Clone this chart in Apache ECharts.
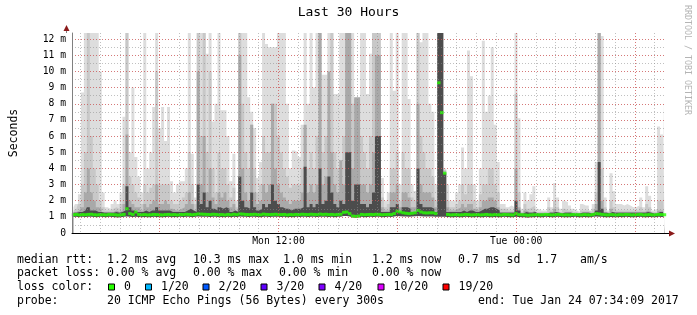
<!DOCTYPE html>
<html><head><meta charset="utf-8">
<script src="https://cdn.jsdelivr.net/npm/echarts@6/dist/echarts.min.js"></script>
<style>html,body{margin:0;padding:0;background:#fff}#c{width:697px;height:315px}</style>
</head><body><div id="c"></div>
<script>
// ---- time frame (hours since Mon 00:00) ----
const START_H = 1.5692;   // Mon 01:34:09
const END_H = 31.5692;    // Tue 07:34:09
const STEP_H = 0.15;      // one sample column
const Y_MAX = 12.38;      // ms

// ---- smoke envelopes (ms), outer -> inner ----
const smokeMax = [
1.6,1.8,2.4,8.7,13,13,13,13,13,10, 2.5,1.6,1.5,1.8,2.0,1.8,2.5,7.2,13,5,
9,4.7,3.5,2.5,13,4,5,7.8,13,6.5, 7.8,5.7,7.8,3.2,2.5,3,3.2,3.2,4,13,
4.9,2.2,13,13,13,11.1,13,6.9,8,13, 7.6,7.6,6,3.2,4.9,2,13,13,13,8.4,
7.5,6.5,3.4,4.4,13,11.7,11.5,11.5,11.5,13, 13,13,8,4,5.1,5,4.7,6.7,13,8,
13,9,13,13,9.8,9.8,13,13,8.6,8.6, 13,13,13,13,13,8.3,8.4,13,13,8.6,
11.1,12.1,11.5,11.5,3.4,2,2.5,13,8.8,13, 3,13,13,8.3,3,2.6,13,11.8,13,13,
8,7.5,3,13,13,4,3,2,2,2.5, 3,5.3,4,11.3,9.7,3,2,4,11.9,7.5,
8.5,11.5,6.7,4.4,1.8,1.8,1.6,1.7,1.6,13, 7.1,1.5,2.5,2,2.4,2.9,1.5,1.4,1.4,1.4,
2.2,1.6,3.1,2.2,1.5,2,1.9,1.7,1.5,1.4, 1.3,1.8,1.7,1.7,1.4,1.8,4.4,13,12.2,2.2,
1.4,3.7,2.6,1.8,1.8,1.7,1.8,1.7,1.6,1.6, 1.7,2.2,1.6,2.9,2.3,1.4,1.5,6.6,6.1,8.4
];
const smokeHigh = [
1.4,1.5,1.8,3,5,13,6,4,3,2, 1.6,1.4,1.4,1.5,1.6,1.5,1.8,3,13,3.5,
3,2.5,2.2,1.8,3,2.5,2.8,3,10,3, 3,3,3,2,1.8,1.8,2,2.2,2.5,5,
3,1.8,13,6,13,5,10,4,2.5,5, 4,4,3,2.2,2.8,1.6,13,8,5,4,
6.7,4,2.5,3,6,5,5,8,8,6, 5,4,3.5,2.8,3,3,3,4,6.5,4,
5,4,6,13,5,6,7,13,5,4, 4,6,13,13,8,6,6,6,5,4,
6,13,13,13,2.2,1.6,1.8,4,4,5, 2,5,4,4,2.2,2,13,6,5,4,
4,3.5,2,13,13,3.9,2,1.6,1.6,1.8, 2,3,2.4,3,3,2,1.6,2.4,3,3,
4,4,3,2.5,1.5,1.5,1.4,1.4,1.4,8.6, 2.5,1.3,1.8,1.5,1.6,1.7,1.3,1.3,1.3,1.3,
1.6,1.4,2,1.6,1.3,1.5,1.4,1.4,1.3,1.3, 1.2,1.4,1.4,1.4,1.3,1.5,2.5,13,4,1.6,
1.3,2,1.6,1.4,1.4,1.4,1.4,1.4,1.4,1.4, 1.4,1.6,1.4,1.8,1.6,1.3,1.3,2,2,2.5
];
const smokeMid = [
1.3,1.3,1.4,1.6,2.5,4,2.5,2,1.6,1.5, 1.3,1.3,1.3,1.3,1.4,1.3,1.4,1.8,6.1,2,
1.8,1.6,1.6,1.4,1.8,1.6,1.8,2,3,1.8, 1.8,2,1.8,1.5,1.4,1.4,1.5,1.6,1.8,2.5,
1.8,1.4,10,3,6,2.5,4,2.2,1.8,2.5, 2.2,2.5,2,1.6,1.8,1.4,11,4,2.5,2,
6.7,2.5,1.8,2,3,2.5,3,8,4,3, 2.5,2.2,2,1.8,2,2,2,2.5,6.7,2.5,
3,2.5,3,13,3,3.5,10,5,3,2.5, 4.5,3,13,13,4,8.4,8.4,3,3,2.5,
3,5,11,11,1.6,1.4,1.4,2.5,2.5,3, 1.6,2.5,2.5,2.2,1.6,1.6,8,3,2.5,2.5,
2.5,2.2,1.6,13,13,3.8,1.6,1.4,1.4,1.5, 1.6,1.8,1.6,1.8,1.8,1.5,1.4,1.6,2,2,
2.2,2.2,2,1.6,1.3,1.3,1.3,1.3,1.3,4, 1.6,1.2,1.4,1.3,1.3,1.4,1.2,1.2,1.2,1.2,
1.3,1.3,1.5,1.3,1.2,1.3,1.3,1.3,1.2,1.2, 1.2,1.3,1.3,1.3,1.2,1.3,1.8,13,2,1.3,
1.2,1.5,1.3,1.3,1.3,1.3,1.3,1.3,1.3,1.3, 1.3,1.3,1.3,1.4,1.3,1.2,1.2,1.4,1.4,1.5
];
const smokeCore = [
1.25,1.25,1.3,1.3,1.4,1.6,1.4,1.4,1.3,1.3, 1.25,1.25,1.25,1.25,1.3,1.25,1.3,1.4,2.9,1.6,
1.4,1.3,1.3,1.3,1.4,1.3,1.4,1.4,1.6,1.4, 1.4,1.4,1.4,1.3,1.3,1.3,1.3,1.3,1.4,1.5,
1.4,1.3,3,1.8,2.5,1.6,2,1.5,1.4,1.6, 1.5,1.6,1.5,1.3,1.4,1.3,3.5,2,1.6,1.5,
2.5,1.6,1.4,1.5,1.8,1.6,1.8,3,2,1.8, 1.6,1.5,1.5,1.4,1.5,1.5,1.5,1.6,4.1,1.6,
1.8,1.6,1.8,4,1.8,2,3.5,2.5,1.8,1.6, 2,1.8,5,5,2,3,3,1.8,1.8,1.6,
1.8,2.5,6,6,1.3,1.3,1.3,1.6,1.6,1.8, 1.3,1.6,1.6,1.5,1.3,1.3,4,1.8,1.6,1.6,
1.6,1.5,1.3,13,13,3.7,1.3,1.3,1.3,1.3, 1.3,1.4,1.3,1.4,1.4,1.3,1.3,1.4,1.5,1.5,
1.6,1.6,1.5,1.4,1.25,1.25,1.25,1.25,1.25,2, 1.4,1.2,1.3,1.25,1.25,1.3,1.2,1.2,1.2,1.2,
1.25,1.25,1.3,1.25,1.2,1.25,1.25,1.25,1.2,1.2, 1.2,1.25,1.25,1.25,1.2,1.25,1.4,4.4,1.5,1.25,
1.2,1.3,1.25,1.25,1.25,1.25,1.25,1.25,1.25,1.25, 1.25,1.25,1.25,1.3,1.25,1.2,1.2,1.3,1.3,1.3
];
const smokeMin = [
0.99,1.0,0.98,1.0,0.99,1.0,1.01,0.99,0.98,1.0, 0.99,0.98,1.0,0.99,0.98,0.96,0.98,1.0,1.02,1.0,
0.99,1.01,0.99,0.98,0.99,0.97,0.98,1.0,0.99,0.98, 0.97,0.99,1.0,0.98,0.99,0.97,1.0,0.99,1.0,1.0,
0.98,1.0,1.02,1.01,1.0,1.0,0.99,1.0,1.0,0.98, 0.99,0.97,1.0,0.98,1.0,0.99,1.02,1.01,1.0,0.99,
1.0,1.0,0.99,0.98,1.01,1.0,0.99,1.0,1.0,1.0, 0.99,1.0,0.97,0.99,0.98,1.0,0.99,1.0,1.0,0.99,
1.0,1.0,0.99,1.01,1.0,1.0,0.99,1.0,0.98,1.0, 1.0,1.05,1.06,1.02,0.96,0.94,0.96,1.0,0.98,0.99,
1.0,0.99,1.0,1.0,0.98,0.99,1.0,0.99,1.02,1.05, 1.04,1.02,1.02,1.01,1.02,1.03,1.06,1.04,1.02,1.02,
1.02,1.02,1.0,1.0,1.0,1.0,0.99,0.97,0.98,0.99, 0.97,0.98,1.0,0.99,0.97,0.98,0.99,0.97,0.98,1.0,
0.98,0.97,0.99,0.98,0.97,1.0,0.99,0.98,0.97,1.0, 0.99,0.98,0.97,0.95,0.97,0.98,0.99,0.97,0.98,1.0,
0.99,0.97,0.98,1.0,0.99,0.97,0.98,0.97,0.99,1.0, 0.98,0.97,0.99,0.98,0.97,1.0,1.02,1.0,1.0,0.98,
0.97,0.99,0.98,0.97,0.99,0.98,1.0,0.99,0.97,0.98, 0.99,1.0,0.97,0.98,0.99,0.97,0.98,1.0,0.99,0.98
];
// ---- median rtt (ms) ----
const medianRtt = [
1.13,1.15,1.12,1.14,1.13,1.15,1.16,1.13,1.12,1.14, 1.13,1.12,1.15,1.14,1.13,1.11,1.13,1.15,1.5,1.2,
1.15,1.3,1.15,1.13,1.14,1.12,1.13,1.15,1.14,1.13, 1.12,1.14,1.15,1.13,1.14,1.12,1.15,1.14,1.16,1.15,
1.13,1.15,1.18,1.17,1.16,1.15,1.14,1.16,1.15,1.13, 1.14,1.12,1.15,1.13,1.16,1.14,1.18,1.17,1.15,1.14,
1.15,1.16,1.14,1.13,1.17,1.15,1.14,1.15,1.16,1.15, 1.14,1.15,1.12,1.14,1.13,1.15,1.14,1.16,1.15,1.14,
1.16,1.15,1.14,1.17,1.15,1.16,1.14,1.15,1.13,1.15, 1.16,1.28,1.3,1.2,1.05,1.03,1.05,1.15,1.13,1.14,
1.15,1.14,1.16,1.15,1.13,1.14,1.15,1.14,1.2,1.35, 1.3,1.25,1.22,1.2,1.22,1.25,1.4,1.3,1.25,1.24,
1.25,1.25,1.2,9.3,7.45,3.7,1.15,1.12,1.13,1.14, 1.12,1.13,1.15,1.14,1.12,1.13,1.14,1.12,1.13,1.15,
1.13,1.12,1.14,1.13,1.12,1.15,1.14,1.13,1.12,1.2, 1.14,1.13,1.12,1.1,1.12,1.13,1.14,1.12,1.13,1.15,
1.14,1.12,1.13,1.15,1.14,1.12,1.13,1.12,1.14,1.15, 1.13,1.12,1.14,1.13,1.12,1.15,1.2,1.18,1.15,1.13,
1.12,1.14,1.13,1.12,1.14,1.13,1.15,1.14,1.12,1.13, 1.14,1.15,1.12,1.13,1.14,1.12,1.13,1.15,1.14,1.13
];

// ---- axis ticks / labels ----
const xMinorHours = [2,3,4,5,6,7,8,9,10,11,12,13,14,15,16,17,18,19,20,21,22,23,24,25,26,27,28,29,30,31];
const xMajorHours = [6,12,18,24,30];
const xLabelHours = [12,24];
const xLabelTexts = ['Mon 12:00','Tue 00:00'];

// ---- legend text ----
const statLines = [
  ['median rtt:', '1.2 ms avg', '10.3 ms max', '1.0 ms min', '1.2 ms now', '0.7 ms sd', '1.7', 'am/s'],
  ['packet loss:', '0.00 % avg', '0.00 % max', '0.00 % min', '0.00 % now']
];
const lossLabels = ['0','1/20','2/20','3/20','4/20','10/20','19/20'];
const lossColors = ['#26ff00','#00b8ff','#0059ff','#5e00ff','#7e00ff','#dd00ff','#ff0000'];
const probeText = '20 ICMP Echo Pings (56 Bytes) every 300s';
const endText = 'end: Tue Jan 24 07:34:09 2017';

// ---- build ----
const times = smokeMax.map((_, i) => START_H + STEP_H * (i + 0.5));
const pair = arr => arr.map((v, i) => [times[i], v]);
const MONO = 'DejaVu Sans Mono';

function areaSeries(name, arr, color) {
  return { name, type: 'line', data: pair(arr), step: 'middle', symbol: 'none',
    lineStyle: { width: 0 }, areaStyle: { color: color, opacity: 1 }, silent: true,
    animation: false, clip: true, z: 2 };
}

const series = [
  areaSeries('max', smokeMax, '#dddddd'),
  areaSeries('high', smokeHigh, '#c8c8c8'),
  areaSeries('mid', smokeMid, '#a9a9a9'),
  areaSeries('core', smokeCore, '#4c4c4c'),
  areaSeries('min', smokeMin, '#ffffff'),
  { name: 'median', type: 'scatter', data: pair(medianRtt), symbol: 'rect',
    symbolSize: [3.4, 3], itemStyle: { color: '#26ff00' }, silent: true, animation: false, z: 3 }
];

// legend layout
const lineY = [260, 273.5, 287.5, 301.5];
const statX = [
  [17, 107, 193, 283, 372, 458, 536.5, 580],
  [17, 107, 193, 279, 372]
];
const boxX = [108.5, 145.5, 203, 261, 319, 378, 443];
const graphics = [];
const txt = (x, y, s, size) => ({ type: 'text', x, y,
  style: { text: s, font: size + 'px "' + MONO + '"', fill: '#000', align: 'left', verticalAlign: 'middle' }, z: 100 });
statLines.forEach((segs, li) => segs.forEach((s, k) => graphics.push(txt(statX[li][k], lineY[li], s, 11.5))));
graphics.push(txt(17, lineY[2], 'loss color:', 11.5));
lossLabels.forEach((lab, k) => {
  graphics.push({ type: 'rect', shape: { x: boxX[k], y: lineY[2] - 3.5, width: 6, height: 6 },
    style: { fill: lossColors[k], stroke: '#000', lineWidth: 1 }, z: 100 });
  graphics.push(txt(boxX[k] + 15.5, lineY[2], lab, 11.5));
});
graphics.push(txt(17, lineY[3], 'probe:', 11.5));
graphics.push(txt(107, lineY[3], probeText, 11.5));
graphics.push(txt(478, lineY[3], endText, 11.5));
// title
graphics.push({ type: 'text', x: 348.5, y: 13, style: { text: 'Last 30 Hours', font: '13px "' + MONO + '"', fill: '#000', align: 'center', verticalAlign: 'middle' }, z: 100 });
// watermark
graphics.push({ type: 'text', x: 687.5, y: 60, rotation: -Math.PI / 2,
  style: { text: 'RRDTOOL / TOBI OETIKER', font: '8.3px "' + MONO + '"', fill: '#b4b4b4', align: 'center', verticalAlign: 'middle' }, z: 100 });
// axis arrows
graphics.push({ type: 'line', shape: { x1: 66.5, y1: 33, x2: 66.5, y2: 30 }, style: { stroke: '#808080', lineWidth: 1 }, z: 100 });
graphics.push({ type: 'line', shape: { x1: 666, y1: 233.5, x2: 670, y2: 233.5 }, style: { stroke: '#000', lineWidth: 1 }, z: 100 });
graphics.push({ type: 'polygon', shape: { points: [[63.5, 31], [69.5, 31], [66.5, 25]] }, style: { fill: '#8b1a1a' }, z: 100 });
graphics.push({ type: 'polygon', shape: { points: [[669, 230.5], [669, 236.5], [675, 233.5]] }, style: { fill: '#8b1a1a' }, z: 100 });

const gridDot = [1, 2];
const option = {
  animation: false,
  backgroundColor: '#ffffff',
  grid: { left: 66, top: 33, width: 600, height: 200, containLabel: false },
  xAxis: [
    { type: 'value', min: START_H, max: END_H, position: 'bottom', z: 12,
      axisLine: { show: true, onZero: false, lineStyle: { color: '#000', width: 1 } },
      axisTick: { show: false }, axisLabel: { show: false }, splitLine: { show: false } },
    { type: 'value', min: START_H, max: END_H, position: 'bottom', z: 10,
      axisLine: { show: false }, axisTick: { show: false, customValues: xMinorHours },
      axisLabel: { show: false, customValues: xMinorHours },
      splitLine: { show: true, lineStyle: { color: 'rgba(140,140,140,0.55)', width: 1, type: gridDot } } },
    { type: 'value', min: START_H, max: END_H, position: 'bottom', z: 11,
      axisLine: { show: false }, axisTick: { show: false, customValues: xMajorHours },
      axisLabel: { show: true, customValues: xLabelHours, margin: 3,
        formatter: v => { const k = xLabelHours.indexOf(Math.round(v)); return k >= 0 ? xLabelTexts[k] : ''; },
        fontFamily: MONO, fontSize: 9.7, color: '#000' },
      splitLine: { show: true, lineStyle: { color: 'rgba(230,60,60,0.55)', width: 1, type: gridDot } } }
  ],
  yAxis: [
    { type: 'value', min: 0, max: Y_MAX, interval: 1, z: 11,
      name: 'Seconds', nameLocation: 'middle', nameGap: 52,
      nameTextStyle: { fontFamily: MONO, fontSize: 11.5, color: '#000' },
      axisLine: { show: true, lineStyle: { color: '#808080', width: 1 } },
      axisTick: { show: false },
      axisLabel: { margin: 6, fontFamily: MONO, fontSize: 9.7, color: '#000',
        formatter: v => (Math.abs(v - Math.round(v)) > 1e-6 ? '' : (v === 0 ? '0' : Math.round(v) + ' m')) },
      splitLine: { show: true, showMaxLine: false, lineStyle: { color: 'rgba(230,60,60,0.55)', width: 1, type: gridDot } } },
    { type: 'value', min: 0, max: Y_MAX, interval: 0.5, z: 10,
      axisLine: { show: false }, axisTick: { show: false }, axisLabel: { show: false },
      splitLine: { show: true, showMaxLine: false, lineStyle: { color: 'rgba(140,140,140,0.55)', width: 1, type: gridDot } } }
  ],
  series: series,
  graphic: graphics
};
const chart = echarts.init(document.getElementById('c'), null, { renderer: 'canvas' });
chart.setOption(option);
</script>
</body></html>
